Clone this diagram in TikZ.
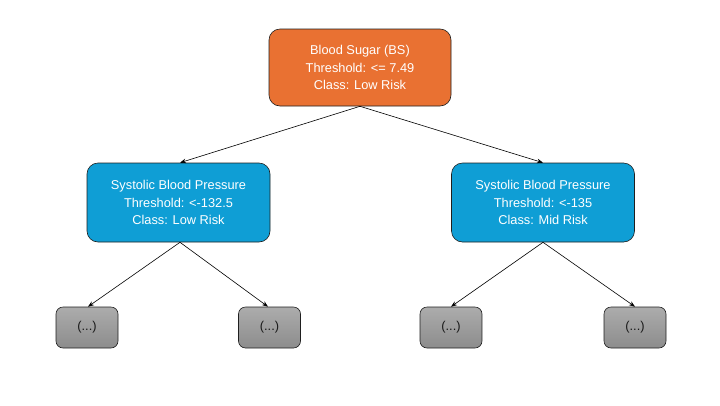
\documentclass[tikz,border=0pt]{standalone}
\usepackage{fontspec}
\setmainfont{Liberation Sans}
\usetikzlibrary{arrows.meta}
\definecolor{orangebox}{HTML}{E97132}
\definecolor{bluebox}{HTML}{0F9ED5}
\definecolor{edgecol}{HTML}{1F1F1F}
\begin{document}
\begin{tikzpicture}[x=1pt,y=-1pt,
  box/.style={draw=edgecol,line width=0.6pt,rounded corners=11pt,align=center,text=white,
    font=\fontsize{12.8}{17.5}\selectfont,inner sep=0pt},
  rootbox/.style={box,fill=orangebox,minimum width=182pt,minimum height=77pt},
  midbox/.style={box,fill=bluebox,minimum width=183pt,minimum height=79pt},
  leafbox/.style={draw=edgecol,line width=0.6pt,rounded corners=7pt,top color=gray!65,bottom color=gray!110!black,
    minimum width=62pt,minimum height=41pt,inner sep=0pt,text=black!90,font=\fontsize{12.8}{15}\selectfont},
  conn/.style={-{Stealth[length=6pt,width=4.5pt]},line width=0.6pt,black}]
\useasboundingbox (0,0) rectangle (720,405);
\node[rootbox] (root) at (360,67.5) {Blood Sugar (BS)\\Threshold: <= 7.49\\Class: Low Risk};
\node[midbox] (left) at (178.5,202.5) {Systolic Blood Pressure\\Threshold: <-132.5\\Class: Low Risk};
\node[midbox] (right) at (543,202.5) {Systolic Blood Pressure\\Threshold: <-135\\Class: Mid Risk};
\node[leafbox] (l1) at (87,327.5) {(...)};
\node[leafbox] (l2) at (269.5,327.5) {(...)};
\node[leafbox] (r1) at (451,327.5) {(...)};
\node[leafbox] (r2) at (635,327.5) {(...)};
\draw[conn] (root.south) -- ([xshift=1.5pt]left.north);
\draw[conn] (root.south) -- (right.north);
\draw[conn] ([xshift=1.5pt]left.south) -- ([xshift=1pt]l1.north);
\draw[conn] ([xshift=1.5pt]left.south) -- ([xshift=-1.5pt]l2.north);
\draw[conn] (right.south) -- (r1.north);
\draw[conn] (right.south) -- (r2.north);
\end{tikzpicture}
\end{document}
